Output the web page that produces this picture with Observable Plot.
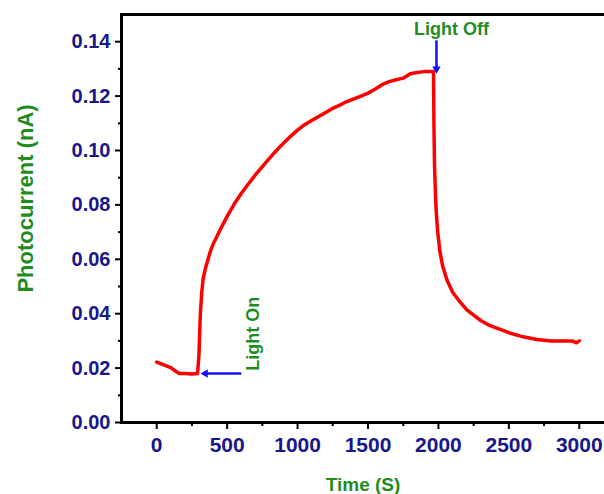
<!DOCTYPE html>
<html>
<head>
<meta charset="utf-8">
<script src="https://cdn.jsdelivr.net/npm/d3@7"></script>
<script src="https://cdn.jsdelivr.net/npm/@observablehq/plot@0.6"></script>
<style>
  html, body { margin: 0; padding: 0; background: #fff; overflow: hidden; width: 604px; height: 494px; }
  svg { display: block; max-width: none !important; }
</style>
</head>
<body>
<div id="chart"></div>
<script>
// Data
const time = [0, 50, 100, 130, 160, 200, 250, 290, 300, 305, 310, 320, 330, 345, 360, 380, 400, 450, 500, 550, 600, 650, 700, 750, 800, 850, 900, 950, 1000, 1050, 1100, 1150, 1200, 1250, 1300, 1350, 1400, 1450, 1500, 1550, 1600, 1650, 1700, 1750, 1800, 1850, 1900, 1950, 1965, 1968, 1972, 1978, 1985, 1995, 2010, 2030, 2060, 2100, 2150, 2200, 2250, 2300, 2350, 2400, 2500, 2600, 2700, 2800, 2900, 2950, 2980, 3000];
const current = [0.0222, 0.0212, 0.0202, 0.0190, 0.0180, 0.0180, 0.0178, 0.0180, 0.0250, 0.0330, 0.0400, 0.0480, 0.0530, 0.0565, 0.0592, 0.0628, 0.0655, 0.0708, 0.0758, 0.0803, 0.0842, 0.0877, 0.0910, 0.0941, 0.0971, 0.1000, 0.1027, 0.1052, 0.1075, 0.1095, 0.1110, 0.1125, 0.1140, 0.1155, 0.1167, 0.1180, 0.1190, 0.1200, 0.1211, 0.1225, 0.1242, 0.1253, 0.1260, 0.1266, 0.1282, 0.1287, 0.1290, 0.1290, 0.1290, 0.1100, 0.0950, 0.0850, 0.0770, 0.0700, 0.0630, 0.0575, 0.0525, 0.0480, 0.0445, 0.0415, 0.0395, 0.0375, 0.0360, 0.0350, 0.0330, 0.0315, 0.0305, 0.0300, 0.0300, 0.0300, 0.0293, 0.0300];

const xMajorTicks = [0, 500, 1000, 1500, 2000, 2500, 3000];
const xMinorTicks = [250, 750, 1250, 1750, 2250, 2750];
const yMajorTicks = [0, 0.02, 0.04, 0.06, 0.08, 0.10, 0.12, 0.14];
const yMinorTicks = [0.01, 0.03, 0.05, 0.07, 0.09, 0.11, 0.13];

const xTitle = "Time (S)";
const yTitle = "Photocurrent (nA)";
const onLabel = "Light On";
const offLabel = "Light Off";
// annotation anchors (data units)
const onArrow = {x1: 600, x2: 345, y: 0.0180};
const onText = {x: 688, y: 0.0190};
const offArrow = {x: 1986, y1: 0.1405, y2: 0.1300};
const offText = {x: 2092, y: 0.1425};

const data = time.map((t, i) => ({t, v: current[i]}));

const navy = "#17178a";
const green = "#1f8c1f";

const chart = Plot.plot({
  width: 614,
  height: 494,
  marginLeft: 121,
  marginRight: 0,
  marginTop: 14,
  marginBottom: 72,
  style: {fontFamily: "'Liberation Sans', Arial, sans-serif", fontWeight: "bold", background: "white"},
  x: {domain: [-250, 3250]},
  y: {domain: [0, 0.15]},
  marks: [
    Plot.axisY(yMajorTicks, {tickSize: 6, tickPadding: 5, strokeWidth: 2, stroke: "black", fill: navy, fontSize: 20, tickFormat: d => d.toFixed(2), label: null}),
    Plot.axisY(yMinorTicks, {tickSize: 3, strokeWidth: 2, stroke: "black", tickFormat: () => "", label: null}),
    Plot.axisX(xMajorTicks, {tickSize: 7, tickPadding: 8, strokeWidth: 2, stroke: "black", fill: navy, fontSize: 21, tickFormat: d => String(d), label: null}),
    Plot.axisX(xMinorTicks, {tickSize: 4, strokeWidth: 2, stroke: "black", tickFormat: () => "", label: null}),
    Plot.frame({stroke: "black", strokeWidth: 3}),
    Plot.line(data, {x: "t", y: "v", stroke: "#ff0000", strokeWidth: 3.5}),
    // Light On arrow
    Plot.link([onArrow], {x1: "x1", x2: "x2", y1: "y", y2: "y", stroke: "#1010ff", strokeWidth: 2.5}),
    Plot.dot([onArrow], {x: "x2", y: "y", symbol: "triangle2", r: 4, fill: "#1010ff", rotate: -90}),
    Plot.text([onText], {x: "x", y: "y", text: () => onLabel, rotate: -90, textAnchor: "start", lineAnchor: "middle", fill: green, fontSize: 18}),
    // Light Off arrow
    Plot.link([offArrow], {x1: "x", x2: "x", y1: "y1", y2: "y2", stroke: "#1010ff", strokeWidth: 2.5}),
    Plot.dot([offArrow], {x: "x", y: "y2", symbol: "triangle2", r: 4, fill: "#1010ff", rotate: 180}),
    Plot.text([offText], {x: "x", y: "y", text: () => offLabel, textAnchor: "middle", lineAnchor: "bottom", fill: green, fontSize: 18}),
    // Axis titles
    Plot.text([xTitle], {frameAnchor: "bottom", textAnchor: "middle", dx: -5, dy: 62, lineAnchor: "middle", fill: green, fontSize: 19}),
    Plot.text([yTitle], {frameAnchor: "left", textAnchor: "middle", dx: -96, dy: -20, rotate: -90, lineAnchor: "middle", fill: green, fontSize: 22})
  ]
});
document.getElementById("chart").appendChild(chart);
</script>
</body>
</html>
